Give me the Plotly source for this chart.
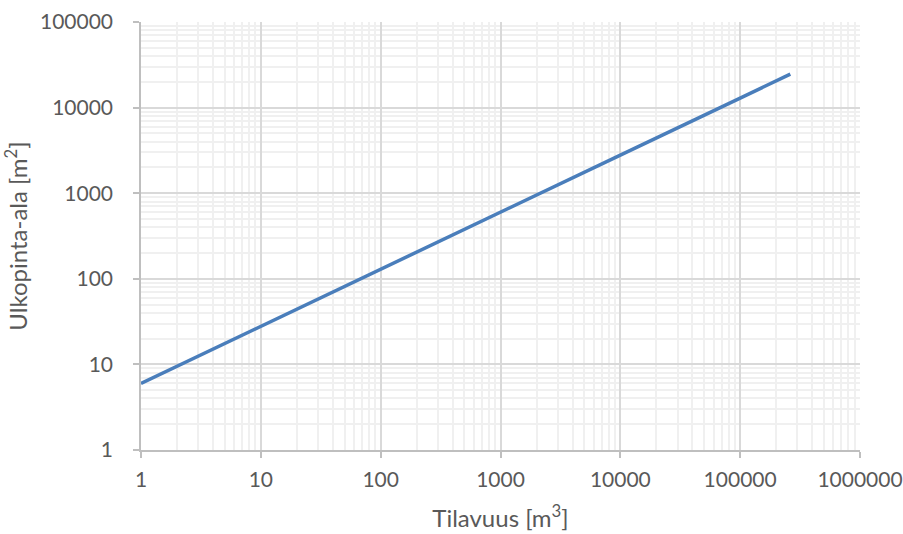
import plotly.graph_objects as go

# Data (volume vs. outer surface area, log-log)
volume = [1, 10, 100, 1000, 10000, 100000, 262144]
surface = [6, 28, 129, 600, 2785, 12927, 24576]

x_tickvals = [1, 10, 100, 1000, 10000, 100000, 1000000]
x_ticktext = ["1", "10", "100", "1000", "10000", "100000", "1000000"]
y_tickvals = [1, 10, 100, 1000, 10000, 100000]
y_ticktext = ["1", "10", "100", "1000", "10000", "100000"]

FONT = "Lato"
TXT = "#595959"

fig = go.Figure()
fig.add_trace(go.Scatter(
    x=volume, y=surface, mode="lines",
    line=dict(color="#4a7ebb", width=3.5),
    showlegend=False, hoverinfo="x+y",
))

axis_common = dict(
    type="log",
    automargin=False,
    showline=True, linecolor="#bfbfbf", linewidth=1.5,
    ticks="outside", ticklen=6, tickcolor="#bfbfbf", tickwidth=1.5,
    showgrid=True, gridcolor="#d9d9d9", gridwidth=1.5,
    minor=dict(showgrid=True, dtick="D1", gridcolor="#f0f0f0", gridwidth=1.5, ticks=""),
    zeroline=False,
    tickfont=dict(family=FONT, size=21, color=TXT),
)

fig.update_xaxes(
    **axis_common,
    range=[0, 6],
    tickvals=x_tickvals, ticktext=x_ticktext,
    ticklabelstandoff=4,
    title=dict(text="Tilavuus [m<sup>3</sup>]", font=dict(family=FONT, size=24, color=TXT), standoff=20),
)
fig.update_yaxes(
    **axis_common,
    range=[0, 5],
    tickvals=y_tickvals, ticktext=y_ticktext,
    ticklabelstandoff=16,
    title=dict(text="Ulkopinta-ala [m<sup>2</sup>]", font=dict(family=FONT, size=24, color=TXT), standoff=12),
)

fig.update_layout(
    width=903, height=534,
    margin=dict(l=141, r=43, t=22, b=84),
    paper_bgcolor="white", plot_bgcolor="white",
    font=dict(family=FONT, color=TXT),
)

fig.write_html("out.html")
